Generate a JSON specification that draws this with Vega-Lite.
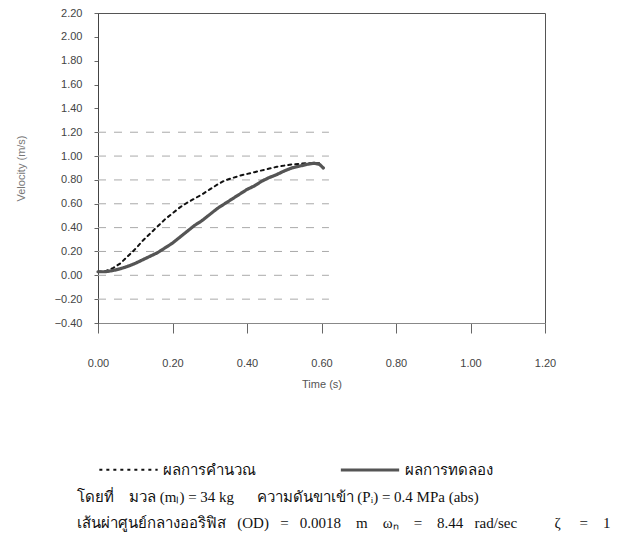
{
  "$schema": "https://vega.github.io/schema/vega-lite/v6.json",
  "width": 447,
  "height": 310,
  "autosize": {"type": "none"},
  "padding": {"left": 98, "top": 13, "right": 80, "bottom": 236},
  "background": "white",
  "config": {
    "view": {"stroke": "#555", "strokeWidth": 1},
    "font": "Liberation Sans",
    "axisX": {
      "labelFlush": false,
      "labelOverlap": false,
      "grid": false,
      "domainColor": "#888",
      "tickColor": "#666",
      "tickSize": 10,
      "labelPadding": 24,
      "labelFont": "Liberation Sans",
      "labelFontSize": 11,
      "labelColor": "#444",
      "titleFont": "Liberation Sans",
      "titleFontSize": 11,
      "titleFontWeight": "normal",
      "titleColor": "#555",
      "titlePadding": 10
    },
    "axisY": {
      "labelFlush": false,
      "labelOverlap": false,
      "grid": false,
      "domainColor": "#444",
      "tickColor": "#666",
      "tickSize": 4,
      "labelPadding": 12,
      "labelFont": "Liberation Sans",
      "labelFontSize": 11,
      "labelColor": "#444",
      "titleFont": "Liberation Sans",
      "titleFontSize": 11,
      "titleFontWeight": "normal",
      "titleColor": "#777",
      "titlePadding": 28
    }
  },
  "title": {
    "text": ["โดยที่\u00a0\u00a0\u00a0 มวล (mₗ) = 34 kg \u00a0\u00a0\u00a0\u00a0 ความดันขาเข้า (Pᵢ) = 0.4 MPa (abs)", "เส้นผ่าศูนย์กลางออริฟิส\u00a0\u00a0\u00a0(OD)\u00a0\u00a0\u00a0=\u00a0\u00a0\u00a00.0018\u00a0\u00a0\u00a0\u00a0m\u00a0\u00a0\u00a0\u00a0ωₙ\u00a0\u00a0\u00a0\u00a0=\u00a0\u00a0\u00a0\u00a08.44\u00a0\u00a0\u00a0rad/sec\u00a0\u00a0\u00a0\u00a0\u00a0\u00a0\u00a0\u00a0\u00a0\u00a0ζ\u00a0\u00a0\u00a0\u00a0\u00a0=\u00a0\u00a0\u00a0\u00a01"],
    "orient": "bottom",
    "anchor": "start",
    "frame": "group",
    "dx": -21,
    "offset": 12,
    "font": "Liberation Serif",
    "fontSize": 15,
    "fontWeight": "normal",
    "color": "#111",
    "lineHeight": 26
  },
  "datasets": {
    "grid": [
      {"v": 1.2, "t0": 0, "t1": 0.62},
      {"v": 1.0, "t0": 0, "t1": 0.62},
      {"v": 0.8, "t0": 0, "t1": 0.62},
      {"v": 0.6, "t0": 0, "t1": 0.62},
      {"v": 0.4, "t0": 0, "t1": 0.62},
      {"v": 0.2, "t0": 0, "t1": 0.62},
      {"v": 0.0, "t0": 0, "t1": 0.62},
      {"v": -0.2, "t0": 0, "t1": 0.62}
    ],
    "curves": [
      {"series": "ผลการคำนวณ", "t": 0.00, "v": 0.03},
      {"series": "ผลการคำนวณ", "t": 0.02, "v": 0.035},
      {"series": "ผลการคำนวณ", "t": 0.04, "v": 0.06},
      {"series": "ผลการคำนวณ", "t": 0.06, "v": 0.10},
      {"series": "ผลการคำนวณ", "t": 0.08, "v": 0.16},
      {"series": "ผลการคำนวณ", "t": 0.10, "v": 0.22},
      {"series": "ผลการคำนวณ", "t": 0.12, "v": 0.29},
      {"series": "ผลการคำนวณ", "t": 0.14, "v": 0.35},
      {"series": "ผลการคำนวณ", "t": 0.16, "v": 0.41},
      {"series": "ผลการคำนวณ", "t": 0.18, "v": 0.47},
      {"series": "ผลการคำนวณ", "t": 0.20, "v": 0.52},
      {"series": "ผลการคำนวณ", "t": 0.22, "v": 0.57},
      {"series": "ผลการคำนวณ", "t": 0.24, "v": 0.61},
      {"series": "ผลการคำนวณ", "t": 0.26, "v": 0.645},
      {"series": "ผลการคำนวณ", "t": 0.28, "v": 0.68},
      {"series": "ผลการคำนวณ", "t": 0.30, "v": 0.72},
      {"series": "ผลการคำนวณ", "t": 0.32, "v": 0.76},
      {"series": "ผลการคำนวณ", "t": 0.34, "v": 0.795},
      {"series": "ผลการคำนวณ", "t": 0.36, "v": 0.815},
      {"series": "ผลการคำนวณ", "t": 0.38, "v": 0.835},
      {"series": "ผลการคำนวณ", "t": 0.40, "v": 0.85},
      {"series": "ผลการคำนวณ", "t": 0.42, "v": 0.865},
      {"series": "ผลการคำนวณ", "t": 0.44, "v": 0.88},
      {"series": "ผลการคำนวณ", "t": 0.46, "v": 0.895},
      {"series": "ผลการคำนวณ", "t": 0.48, "v": 0.91},
      {"series": "ผลการคำนวณ", "t": 0.50, "v": 0.92},
      {"series": "ผลการคำนวณ", "t": 0.52, "v": 0.93},
      {"series": "ผลการคำนวณ", "t": 0.54, "v": 0.935},
      {"series": "ผลการคำนวณ", "t": 0.56, "v": 0.94},
      {"series": "ผลการคำนวณ", "t": 0.58, "v": 0.94},
      {"series": "ผลการคำนวณ", "t": 0.60, "v": 0.94},
      {"series": "ผลการทดลอง", "t": 0.00, "v": 0.03},
      {"series": "ผลการทดลอง", "t": 0.02, "v": 0.03},
      {"series": "ผลการทดลอง", "t": 0.04, "v": 0.04},
      {"series": "ผลการทดลอง", "t": 0.06, "v": 0.055},
      {"series": "ผลการทดลอง", "t": 0.08, "v": 0.075},
      {"series": "ผลการทดลอง", "t": 0.10, "v": 0.10},
      {"series": "ผลการทดลอง", "t": 0.12, "v": 0.13},
      {"series": "ผลการทดลอง", "t": 0.14, "v": 0.16},
      {"series": "ผลการทดลอง", "t": 0.16, "v": 0.19},
      {"series": "ผลการทดลอง", "t": 0.18, "v": 0.23},
      {"series": "ผลการทดลอง", "t": 0.20, "v": 0.27},
      {"series": "ผลการทดลอง", "t": 0.22, "v": 0.32},
      {"series": "ผลการทดลอง", "t": 0.24, "v": 0.37},
      {"series": "ผลการทดลอง", "t": 0.26, "v": 0.42},
      {"series": "ผลการทดลอง", "t": 0.28, "v": 0.46},
      {"series": "ผลการทดลอง", "t": 0.30, "v": 0.51},
      {"series": "ผลการทดลอง", "t": 0.32, "v": 0.56},
      {"series": "ผลการทดลอง", "t": 0.34, "v": 0.60},
      {"series": "ผลการทดลอง", "t": 0.36, "v": 0.64},
      {"series": "ผลการทดลอง", "t": 0.38, "v": 0.68},
      {"series": "ผลการทดลอง", "t": 0.40, "v": 0.72},
      {"series": "ผลการทดลอง", "t": 0.42, "v": 0.75},
      {"series": "ผลการทดลอง", "t": 0.44, "v": 0.79},
      {"series": "ผลการทดลอง", "t": 0.46, "v": 0.82},
      {"series": "ผลการทดลอง", "t": 0.48, "v": 0.845},
      {"series": "ผลการทดลอง", "t": 0.50, "v": 0.875},
      {"series": "ผลการทดลอง", "t": 0.52, "v": 0.90},
      {"series": "ผลการทดลอง", "t": 0.54, "v": 0.915},
      {"series": "ผลการทดลอง", "t": 0.56, "v": 0.93},
      {"series": "ผลการทดลอง", "t": 0.58, "v": 0.94},
      {"series": "ผลการทดลอง", "t": 0.595, "v": 0.93},
      {"series": "ผลการทดลอง", "t": 0.605, "v": 0.90}
    ]
  },
  "layer": [
    {
      "data": {"name": "grid"},
      "mark": {"type": "rule", "stroke": "#aaa", "strokeWidth": 1, "strokeDash": [8, 8]},
      "encoding": {
        "y": {
          "field": "v",
          "type": "quantitative",
          "scale": {"domain": [-0.4, 2.2], "nice": false, "zero": false},
          "axis": {
            "title": "Velocity (m/s)",
            "values": [-0.4, -0.2, 0, 0.2, 0.4, 0.6, 0.8, 1.0, 1.2, 1.4, 1.6, 1.8, 2.0, 2.2],
            "format": ".2f"
          }
        },
        "x": {
          "field": "t0",
          "type": "quantitative",
          "scale": {"domain": [0, 1.2], "nice": false, "zero": false},
          "axis": {
            "title": "Time (s)",
            "values": [0, 0.2, 0.4, 0.6, 0.8, 1.0, 1.2],
            "format": ".2f"
          }
        },
        "x2": {"field": "t1"}
      }
    },
    {
      "data": {"name": "curves"},
      "mark": {"type": "line", "strokeCap": "round"},
      "encoding": {
        "x": {
          "field": "t",
          "type": "quantitative",
          "scale": {"domain": [0, 1.2], "nice": false, "zero": false},
          "axis": {
            "title": "Time (s)",
            "values": [0, 0.2, 0.4, 0.6, 0.8, 1.0, 1.2],
            "format": ".2f"
          }
        },
        "y": {
          "field": "v",
          "type": "quantitative",
          "scale": {"domain": [-0.4, 2.2], "nice": false, "zero": false},
          "axis": {
            "title": "Velocity (m/s)",
            "values": [-0.4, -0.2, 0, 0.2, 0.4, 0.6, 0.8, 1.0, 1.2, 1.4, 1.6, 1.8, 2.0, 2.2],
            "format": ".2f"
          }
        },
        "color": {
          "field": "series",
          "type": "nominal",
          "scale": {"domain": ["ผลการคำนวณ", "ผลการทดลอง"], "range": ["#111", "#555"]},
          "legend": {
            "title": null,
            "orient": "bottom",
            "direction": "horizontal",
            "offset": 50,
            "symbolType": "stroke",
            "symbolSize": 3400,
            "symbolStrokeWidth": 1.5,
            "labelFont": "Liberation Serif",
            "labelFontSize": 15,
            "labelColor": "#111",
            "labelOffset": 4,
            "columnPadding": 78,
            "labelLimit": 300,
            "encode": {"symbols": {"update": {
              "strokeWidth": {"value": 1.5},
              "stroke": {"value": "#111"},
              "strokeDash": {"signal": "datum.value === 'ผลการคำนวณ' ? [5, 7] : [1, 0]"}
            }}}
          }
        },
        "strokeDash": {
          "field": "series",
          "type": "nominal",
          "scale": {"domain": ["ผลการคำนวณ", "ผลการทดลอง"], "range": [[3, 4], [1, 0]]},
          "legend": {
            "title": null,
            "orient": "bottom",
            "direction": "horizontal",
            "offset": 50,
            "symbolType": "stroke",
            "symbolSize": 3400,
            "symbolStrokeWidth": 1.5,
            "labelFont": "Liberation Serif",
            "labelFontSize": 15,
            "labelColor": "#111",
            "labelOffset": 4,
            "columnPadding": 78,
            "labelLimit": 300
          }
        },
        "strokeWidth": {
          "field": "series",
          "type": "nominal",
          "scale": {"domain": ["ผลการคำนวณ", "ผลการทดลอง"], "range": [2, 3.2]},
          "legend": null
        }
      }
    }
  ]
}
